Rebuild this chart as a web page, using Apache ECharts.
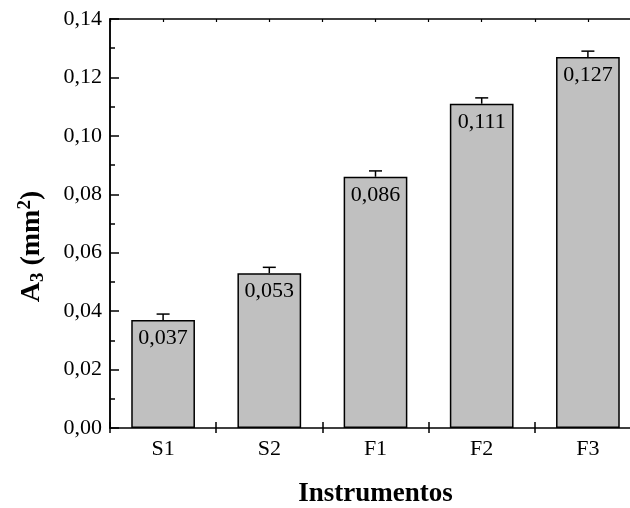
<!DOCTYPE html>
<html>
<head>
<meta charset="utf-8">
<script src="https://cdn.jsdelivr.net/npm/echarts@6/dist/echarts.min.js"></script>
<style>
  html, body { margin: 0; padding: 0; background: #fff; }
  #chart { width: 630px; height: 508px; }
</style>
</head>
<body>
<div id="chart"></div>
<script>
// Instrument categories and measured A3 areas (mm²) with their upper error
const categories = ['S1', 'S2', 'F1', 'F2', 'F3'];
const a3Values = [0.037, 0.053, 0.086, 0.111, 0.127];
const a3Errors = [0.002, 0.002, 0.002, 0.002, 0.002];
const yMin = 0;
const yMax = 0.14;
const yStep = 0.02;

const FONT = '"Liberation Serif", "Times New Roman", serif';
const comma = (v, d) => v.toFixed(d).replace('.', ',');

const chart = echarts.init(document.getElementById('chart'), null, { renderer: 'canvas' });

const errData = categories.map((c, i) => [i, a3Values[i], a3Errors[i]]);

const option = {
  backgroundColor: '#ffffff',
  animation: false,
  // the frame runs a little past the right edge of the canvas
  grid: { left: 110, width: 531, top: 19, bottom: 80, containLabel: false, outerBoundsMode: 'none' },
  xAxis: [
    {
      type: 'category',
      data: categories,
      position: 'bottom',
      axisLine: { show: true, lineStyle: { color: '#000', width: 1.5 } },
      axisTick: { show: true, inside: false, length: 5, alignWithLabel: false, lineStyle: { color: '#000', width: 1.5 } },
      axisLabel: { color: '#000', fontFamily: FONT, fontSize: 22, margin: 10 },
      name: 'Instrumentos',
      nameLocation: 'middle',
      nameGap: 53,
      nameTextStyle: { color: '#000', fontFamily: FONT, fontSize: 27, fontWeight: 'bold' },
      splitLine: { show: false }
    },
    {
      // inner ticks of the bottom frame: boundaries and category centres
      type: 'value',
      position: 'bottom',
      min: 0, max: categories.length, interval: 1,
      axisLine: { show: false },
      axisTick: { show: true, inside: true, length: 6, lineStyle: { color: '#000', width: 1.5 } },
      minorTick: { show: true, splitNumber: 2, length: 3, lineStyle: { color: '#000', width: 1.2 } },
      axisLabel: { show: false },
      splitLine: { show: false }
    },
    {
      // top frame
      type: 'value',
      position: 'top',
      min: 0, max: categories.length, interval: 1,
      axisLine: { show: true, lineStyle: { color: '#000', width: 1.5 } },
      axisTick: { show: true, inside: true, length: 3, lineStyle: { color: '#000', width: 1.2 } },
      minorTick: { show: true, splitNumber: 2, length: 3, lineStyle: { color: '#000', width: 1.2 } },
      axisLabel: { show: false },
      splitLine: { show: false }
    }
  ],
  yAxis: [
    {
      type: 'value',
      position: 'left',
      min: yMin, max: yMax, interval: yStep,
      axisLine: { show: true, lineStyle: { color: '#000', width: 1.5 } },
      axisTick: { show: true, inside: true, length: 9, lineStyle: { color: '#000', width: 1.5 } },
      minorTick: { show: true, splitNumber: 2, length: 5, lineStyle: { color: '#000', width: 1.5 } },
      axisLabel: { color: '#000', fontFamily: FONT, fontSize: 22, margin: 8, formatter: v => comma(v, 2) },
      splitLine: { show: false },
      name: '{b|A}{sub|3}{b| (mm}{sup|2}{b|)}',
      nameLocation: 'middle',
      nameRotate: 90,
      nameGap: 62,
      nameTextStyle: {
        color: '#000',
        fontFamily: FONT,
        padding: [0, 46, 0, 0],
        rich: {
          b: { fontFamily: FONT, fontSize: 28, fontWeight: 'bold', color: '#000' },
          sub: { fontFamily: FONT, fontSize: 19, fontWeight: 'bold', color: '#000', verticalAlign: 'bottom', padding: [11, 0, 0, 0] },
          sup: { fontFamily: FONT, fontSize: 19, fontWeight: 'bold', color: '#000', verticalAlign: 'top', padding: [0, 0, 13, 0] }
        }
      }
    },
    {
      type: 'value',
      position: 'right',
      min: yMin, max: yMax, interval: yStep,
      axisLine: { show: true, lineStyle: { color: '#000', width: 1.5 } },
      axisTick: { show: false },
      axisLabel: { show: false },
      splitLine: { show: false }
    }
  ],
  series: [
    {
      type: 'bar',
      xAxisIndex: 0,
      yAxisIndex: 0,
      data: a3Values,
      barCategoryGap: '40%',
      itemStyle: { color: '#c0c0c0', borderColor: '#000', borderWidth: 1.5 },
      label: {
        show: true,
        position: 'insideTop',
        distance: 7,
        color: '#000',
        fontFamily: FONT,
        fontSize: 22,
        formatter: p => comma(p.value, 3)
      },
      z: 2
    },
    {
      type: 'custom',
      xAxisIndex: 0,
      yAxisIndex: 0,
      data: errData,
      z: 3,
      renderItem: function (params, api) {
        const x = api.value(0);
        const v = api.value(1);
        const e = api.value(2);
        const base = api.coord([x, v]);
        const top = api.coord([x, v + e]);
        const half = 6.5;
        const style = { stroke: '#000', lineWidth: 1.5 };
        return {
          type: 'group',
          children: [
            { type: 'line', shape: { x1: base[0], y1: base[1], x2: top[0], y2: top[1] }, style },
            { type: 'line', shape: { x1: top[0] - half, y1: top[1], x2: top[0] + half, y2: top[1] }, style }
          ]
        };
      }
    }
  ]
};

chart.setOption(option);
</script>
</body>
</html>
